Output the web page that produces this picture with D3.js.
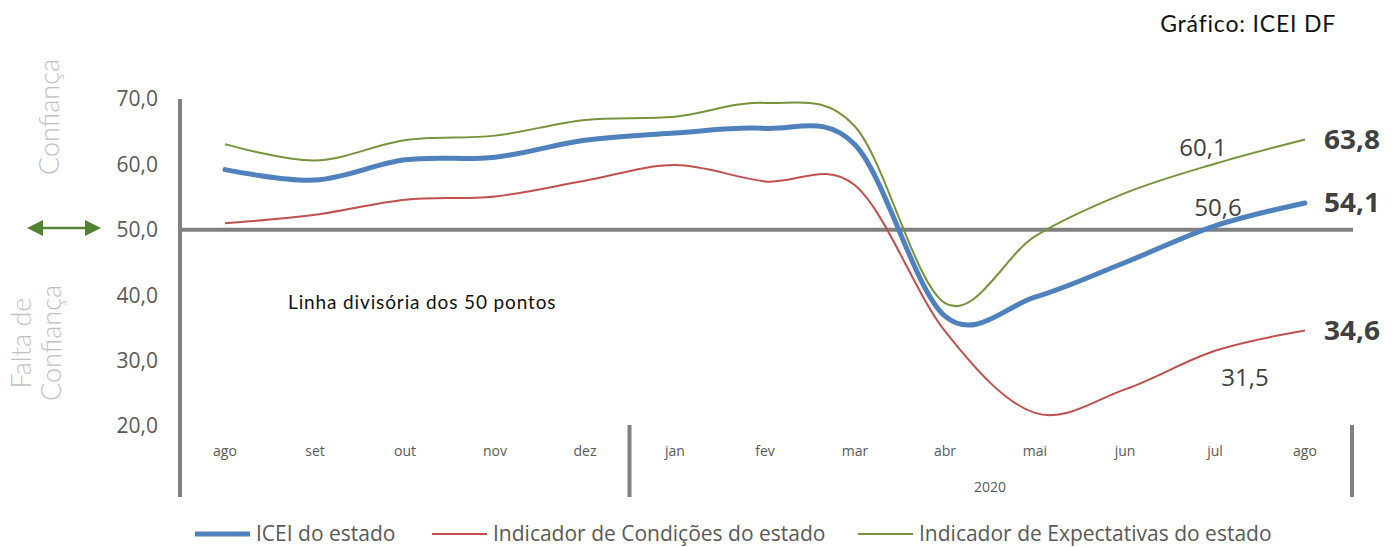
<!DOCTYPE html>
<html>
<head>
<meta charset="utf-8">
<script src="https://cdn.jsdelivr.net/npm/d3@7"></script>
<style>
body { margin: 0; background: #fff; }
svg { display: block; }
</style>
</head>
<body>
<script>
const months = ['ago','set','out','nov','dez','jan','fev','mar','abr','mai','jun','jul','ago'];
const icei = [59.2, 57.6, 60.7, 61.1, 63.7, 64.8, 65.5, 63.0, 36.8, 39.7, 45.0, 50.6, 54.1];
const condicoes = [51.0, 52.3, 54.6, 55.1, 57.5, 59.9, 57.4, 56.8, 34.5, 22.0, 25.6, 31.5, 34.6];
const expectativas = [63.1, 60.6, 63.7, 64.4, 66.8, 67.3, 69.4, 65.8, 38.8, 49.0, 55.6, 60.1, 63.8];
const yTicks = [20, 30, 40, 50, 60, 70];

const w = 1396, h = 547;
const svg = d3.select('body').append('svg').attr('width', w).attr('height', h);

const idx = d3.range(months.length);
const x = d3.scaleBand().domain(idx).range([180, 1350]);
const y = d3.scaleLinear().domain([20, 70]).range([426, 99]);
const cx = i => x(i) + x.bandwidth() / 2;
const fmt = v => d3.format('.1f')(v).replace('.', ',');

// y tick labels
svg.append('g').selectAll('text').data(yTicks).enter().append('text')
  .attr('x', 158).attr('y', d => y(d)).attr('dy', '0.35em')
  .attr('text-anchor', 'end').attr('fill', '#595959')
  .style('font', '21px "Open Sans", sans-serif')
  .text(d => fmt(d));

// category axis
svg.append('g').selectAll('text').data(idx).enter().append('text')
  .attr('x', d => cx(d)).attr('y', 451).attr('dy', '0.35em')
  .attr('text-anchor', 'middle').attr('fill', '#595959')
  .style('font', '14px "Open Sans", sans-serif')
  .text(d => months[d]);
svg.append('text').attr('x', (x(5) + 1350) / 2).attr('y', 487).attr('dy', '0.35em')
  .attr('text-anchor', 'middle').attr('fill', '#595959')
  .style('font', '14px "Open Sans", sans-serif').text('2020');

// axis lines
svg.append('line').attr('x1', 180).attr('x2', 180).attr('y1', y(70)).attr('y2', 497)
  .attr('stroke', '#808080').attr('stroke-width', 4);
[x(5) - 0.5, 1352].forEach(xx => {
  svg.append('line').attr('x1', xx).attr('x2', xx).attr('y1', 425).attr('y2', 497)
    .attr('stroke', '#808080').attr('stroke-width', 4);
});
svg.append('line').attr('x1', 180).attr('x2', 1353).attr('y1', y(50)).attr('y2', y(50))
  .attr('stroke', '#808080').attr('stroke-width', 4);

// series
const line = d3.line().x((d, i) => cx(i)).y(d => y(d)).curve(d3.curveCatmullRom.alpha(0));
svg.append('path').datum(condicoes).attr('d', line).attr('fill', 'none')
  .attr('stroke', '#c0504d').attr('stroke-width', 2);
svg.append('path').datum(expectativas).attr('d', line).attr('fill', 'none')
  .attr('stroke', '#77933c').attr('stroke-width', 2);
svg.append('path').datum(icei).attr('d', line).attr('fill', 'none')
  .attr('stroke', '#4f81bd').attr('stroke-width', 5).attr('stroke-linecap', 'round');

// value labels
const last = months.length - 1;
const labFont = '24px "Open Sans", sans-serif';
svg.append('text').attr('x', cx(11) - 12).attr('y', y(expectativas[11]) - 8).attr('text-anchor', 'middle')
  .attr('fill', '#404040').style('font', labFont).text(fmt(expectativas[11]));
svg.append('text').attr('x', cx(11) + 3).attr('y', y(icei[11]) - 10).attr('text-anchor', 'middle')
  .attr('fill', '#404040').style('font', labFont).text(fmt(icei[11]));
svg.append('text').attr('x', cx(11) + 30).attr('y', y(condicoes[11]) + 35).attr('text-anchor', 'middle')
  .attr('fill', '#404040').style('font', labFont).text(fmt(condicoes[11]));
[expectativas, icei, condicoes].forEach(s => {
  svg.append('text').attr('x', cx(last) + 19).attr('y', y(s[last])).attr('dy', '0.35em')
    .attr('fill', '#404040').style('font', 'bold 27px "Open Sans", sans-serif')
    .attr('textLength', 56).attr('lengthAdjust', 'spacingAndGlyphs')
    .text(fmt(s[last]));
});

// side annotations
svg.append('text').attr('transform', 'translate(59,117) rotate(-90)')
  .attr('text-anchor', 'middle').attr('fill', '#bfbfbf')
  .style('font', '300 27px Lato, sans-serif').text('Confiança');
const fc = svg.append('text').attr('transform', 'translate(0,343) rotate(-90)')
  .attr('text-anchor', 'middle').attr('fill', '#bfbfbf')
  .style('font', '300 27px Lato, sans-serif');
fc.append('tspan').attr('x', 0).attr('y', 31).text('Falta de');
fc.append('tspan').attr('x', 0).attr('y', 61).text('Confiança');

// double arrow
svg.append('line').attr('x1', 38).attr('x2', 90).attr('y1', 228).attr('y2', 228)
  .attr('stroke', '#548235').attr('stroke-width', 2.5);
svg.append('path').attr('d', 'M27,228 L43,220 L43,236 Z').attr('fill', '#548235');
svg.append('path').attr('d', 'M101,228 L85,220 L85,236 Z').attr('fill', '#548235');

svg.append('text').attr('x', 288).attr('y', 309).attr('fill', '#111')
  .style('font', '19px Lato, sans-serif').style('letter-spacing', '0.4px')
  .attr('textLength', 268).attr('lengthAdjust', 'spacing')
  .text('Linha divisória dos 50 pontos');

svg.append('text').attr('x', 1336).attr('y', 32).attr('text-anchor', 'end').attr('fill', '#111')
  .style('font', '23px Lato, sans-serif').style('letter-spacing', '0.8px')
  .text('Gráfico: ICEI DF');

// legend
const legend = [
  { name: 'ICEI do estado', color: '#4f81bd', sw: 5, x: 195 },
  { name: 'Indicador de Condições do estado', color: '#c0504d', sw: 2, x: 432 },
  { name: 'Indicador de Expectativas do estado', color: '#77933c', sw: 2, x: 858 }
];
const lg = svg.append('g').selectAll('g').data(legend).enter().append('g');
lg.append('line').attr('x1', d => d.x).attr('x2', d => d.x + 55).attr('y1', 534).attr('y2', 534)
  .attr('stroke', d => d.color).attr('stroke-width', d => d.sw);
lg.append('text').attr('x', d => d.x + 61).attr('y', 534).attr('dy', '0.35em')
  .attr('fill', '#595959').style('font', '21px "Open Sans", sans-serif').text(d => d.name);
</script>
</body>
</html>
